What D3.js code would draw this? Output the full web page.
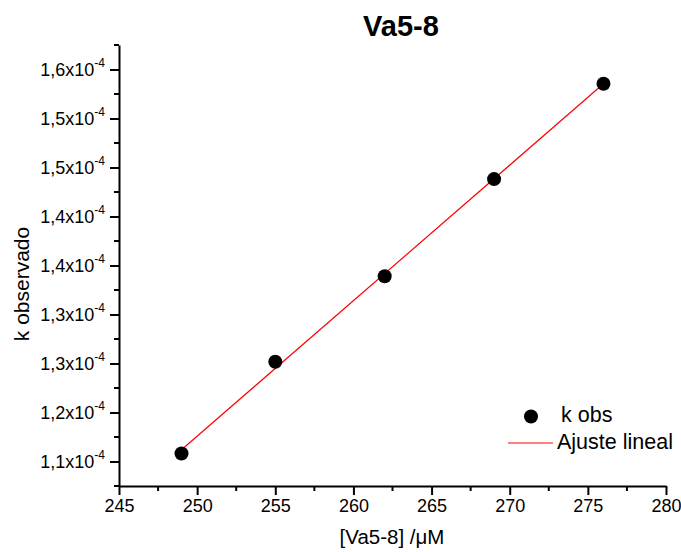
<!DOCTYPE html>
<html>
<head>
<meta charset="utf-8">
<script src="https://cdn.jsdelivr.net/npm/d3@7"></script>
<style>
  html, body { margin: 0; padding: 0; background: #fff; }
  svg { display: block; font-family: "Liberation Sans", Arial, sans-serif; }
</style>
</head>
<body>
<svg id="chart" width="681" height="552"></svg>
<script>
// Concentration of Va5-8 (µM)
const concentration = [249, 255, 262, 269, 276];
// Observed rate constant, k obs
const kObs = [1.154e-4, 1.257e-4, 1.353e-4, 1.462e-4, 1.569e-4];

// Axis ticks
const xTicks = [245, 250, 255, 260, 265, 270, 275, 280];
const yTickValues = [1.145e-4, 1.200e-4, 1.255e-4, 1.310e-4, 1.365e-4, 1.420e-4, 1.475e-4, 1.530e-4, 1.585e-4];
const yTickMantissa = ["1,1", "1,2", "1,3", "1,3", "1,4", "1,4", "1,5", "1,5", "1,6"];
const yTickExponent = "-4";

const titleText = "Va5-8";
const xTitle = "[Va5-8] /\u03BCM";
const yTitle = "k observado";
const legendLabels = ["k obs", "Ajuste lineal"];

const svg = d3.select("#chart");
const plotLeft = 119, plotRight = 666, plotTop = 45, plotBottom = 486;

const yStep = yTickValues[1] - yTickValues[0];
const x = d3.scaleLinear().domain([245, 280]).range([plotLeft, plotRight]);
const y = d3.scaleLinear()
  .domain([yTickValues[0] - yStep / 2, yTickValues[yTickValues.length - 1] + yStep / 2])
  .range([plotBottom, plotTop]);

// Least-squares line through the observations
const mx = d3.mean(concentration), my = d3.mean(kObs);
const sxy = d3.sum(concentration, (c, i) => (c - mx) * (kObs[i] - my));
const sxx = d3.sum(concentration, c => (c - mx) * (c - mx));
const slope = sxy / sxx, intercept = my - slope * mx;
const fitX = d3.extent(concentration);

// X axis
const xMinor = d3.range(0, xTicks.length - 1).map(i => (xTicks[i] + xTicks[i + 1]) / 2);
const gx = svg.append("g").attr("transform", `translate(0,${plotBottom})`);
gx.call(d3.axisBottom(x).tickValues(xTicks).tickSize(9).tickSizeOuter(0).tickFormat(d3.format("d")))
  .call(g => g.select(".domain").attr("stroke-width", 2))
  .call(g => g.selectAll(".tick line").attr("stroke-width", 2))
  .call(g => g.selectAll(".tick text").attr("font-size", 18).attr("font-family", "Liberation Sans, Arial, sans-serif").attr("dy", "0.95em").attr("y", 9));
gx.selectAll(".minor").data(xMinor).join("line")
  .attr("x1", d => x(d)).attr("x2", d => x(d))
  .attr("y1", 0).attr("y2", 5)
  .attr("stroke", "#000").attr("stroke-width", 2);

// Y axis
const yMinor = d3.range(0, yTickValues.length + 1).map(i => yTickValues[0] + (i - 0.5) * yStep);
const gy = svg.append("g").attr("transform", `translate(${plotLeft},0)`);
gy.call(d3.axisLeft(y).tickValues(yTickValues).tickSize(9).tickSizeOuter(0).tickFormat(""))
  .call(g => g.select(".domain").attr("stroke-width", 2))
  .call(g => g.selectAll(".tick line").attr("stroke-width", 2));
gy.selectAll(".minor").data(yMinor).join("line")
  .attr("x1", -5).attr("x2", 0)
  .attr("y1", d => y(d)).attr("y2", d => y(d))
  .attr("stroke", "#000").attr("stroke-width", 2);

const yLab = svg.append("g").selectAll("text").data(yTickValues).join("text")
  .attr("x", 105)
  .attr("y", d => y(d) + 6)
  .attr("text-anchor", "end")
  .attr("font-size", 18)
  .attr("fill", "#000");
yLab.append("tspan").text((d, i) => yTickMantissa[i] + "x10");
yLab.append("tspan").attr("font-size", 12).attr("dy", -9).text(yTickExponent);

// Fit line
svg.append("line")
  .attr("x1", x(fitX[0])).attr("y1", y(slope * fitX[0] + intercept))
  .attr("x2", x(fitX[1])).attr("y2", y(slope * fitX[1] + intercept))
  .attr("stroke", "#ff0000").attr("stroke-width", 1.2);

// Observations
svg.append("g").selectAll("circle").data(concentration).join("circle")
  .attr("cx", d => x(d))
  .attr("cy", (d, i) => y(kObs[i]))
  .attr("r", 7)
  .attr("fill", "#000");

// Titles
svg.append("text").attr("x", 401).attr("y", 36).attr("text-anchor", "middle")
  .attr("font-size", 29).attr("font-weight", "bold").text(titleText);
svg.append("text").attr("x", 392).attr("y", 544).attr("text-anchor", "middle")
  .attr("font-size", 20.5).text(xTitle);
svg.append("text").attr("transform", "translate(29,284) rotate(-90)").attr("text-anchor", "middle")
  .attr("font-size", 21).text(yTitle);

// Legend
const lg = svg.append("g");
lg.append("circle").attr("cx", 531).attr("cy", 416.5).attr("r", 7).attr("fill", "#000");
lg.append("text").attr("x", 561).attr("y", 422).attr("font-size", 21.5).text(legendLabels[0]);
lg.append("line").attr("x1", 508).attr("x2", 553).attr("y1", 443).attr("y2", 443)
  .attr("stroke", "#ff0000").attr("stroke-width", 1.2);
lg.append("text").attr("x", 557).attr("y", 449).attr("font-size", 21.5).text(legendLabels[1]);
</script>
</body>
</html>
